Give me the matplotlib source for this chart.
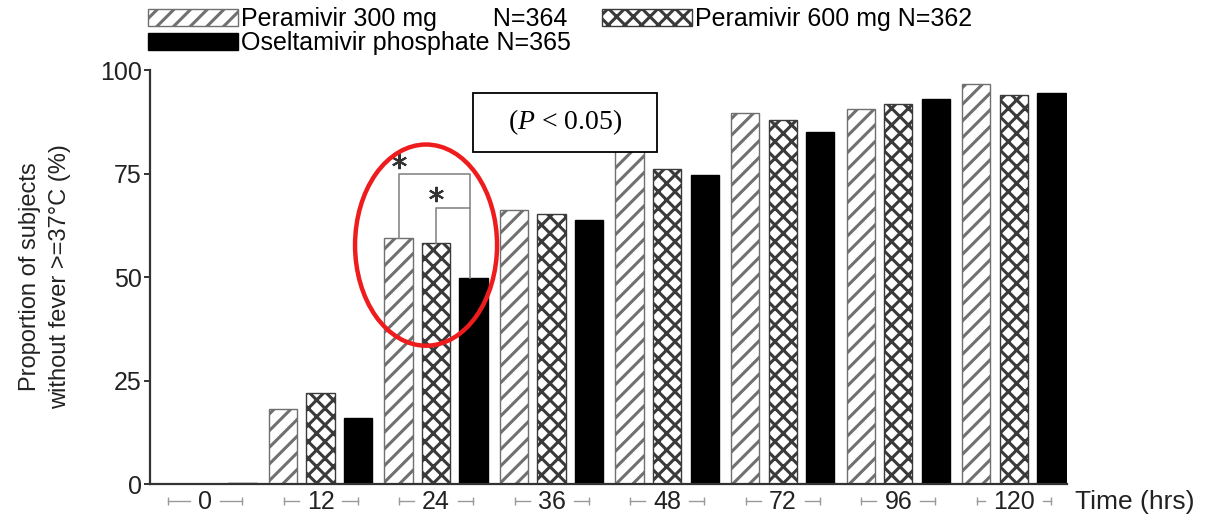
import numpy as np
import matplotlib
matplotlib.use('Agg')
import matplotlib.pyplot as plt
import matplotlib.transforms as mtransforms
from matplotlib.patches import Ellipse, Rectangle

plt.rcParams['font.family'] = ['Liberation Sans', 'DejaVu Sans']
plt.rcParams['hatch.linewidth'] = 2.2
plt.rcParams['mathtext.fontset'] = 'custom'
plt.rcParams['mathtext.rm'] = 'Liberation Serif'
plt.rcParams['mathtext.it'] = 'Liberation Serif:italic'

# datos
times = ['0', '12', '24', '36', '48', '72', '96', '120']
peramivir_300 = [0, 18.1, 59.5, 66.3, 84.0, 89.7, 90.6, 96.5]
peramivir_600 = [0, 21.9, 58.1, 65.1, 76.1, 87.9, 91.8, 94.0]
oseltamivir = [0.3, 15.9, 49.8, 63.8, 74.6, 85.1, 92.9, 94.4]
labels = ['Peramivir 300 mg        N=364',
          'Oseltamivir phosphate N=365',
          'Peramivir 600 mg N=362']

x = np.arange(len(times))
w = 0.245
step = 0.325

fig = plt.figure(figsize=(12.23, 5.19), dpi=100)
ax = fig.add_axes([150 / 1223, 1 - 484 / 519, 917 / 1223, 414 / 519])

b300 = ax.bar(x - step, peramivir_300, w, facecolor='white', edgecolor='#707070',
              hatch='//', linewidth=1)
b600 = ax.bar(x, peramivir_600, w, facecolor='white', edgecolor='#3a3a3a',
              hatch='xx', linewidth=1)
bosel = ax.bar(x + step, oseltamivir, w, color='black', edgecolor='black', linewidth=1)

ax.set_xlim(-0.476, 7.46)
ax.set_ylim(0, 100)
for s in ['top', 'right']:
    ax.spines[s].set_visible(False)
for s in ['left', 'bottom']:
    ax.spines[s].set_linewidth(1.6)
    ax.spines[s].set_color('#333333')

ax.set_yticks([0, 25, 50, 75, 100])
ax.tick_params(axis='y', direction='out', length=4, width=1.4, color='#333333',
               pad=2, labelsize=18, labelcolor='#222222')
ax.set_xticks(x)
ax.set_xticklabels(times)
ax.tick_params(axis='x', length=0, pad=4, labelsize=18, labelcolor='#222222')

ax.set_ylabel('Proportion of subjects\nwithout fever >=37°C (%)', fontsize=17,
              linespacing=1.5, va='center', color='#222222')
ax.yaxis.set_label_coords(-0.1145, 0.5)

ax.text(1.0087, -0.0435, 'Time (hrs)', transform=ax.transAxes, fontsize=19,
        ha='left', va='center', color='#222222')

# lineas grises alrededor de las etiquetas de tiempo
fig.canvas.draw()
trans = mtransforms.blended_transform_factory(ax.transData, ax.transAxes)
inv = ax.transData.inverted()
yline = -0.041
for xi, lbl in zip(x, ax.get_xticklabels()):
    bb = lbl.get_window_extent()
    x0 = inv.transform((bb.x0 - 8, 0))[0]
    x1 = inv.transform((bb.x1 + 8, 0))[0]
    left, right = xi - 0.32, xi + 0.32
    if x0 > left:
        ax.plot([left, x0], [yline, yline], color='#999999', lw=1,
                transform=trans, clip_on=False)
    if x1 < right:
        ax.plot([x1, right], [yline, yline], color='#999999', lw=1,
                transform=trans, clip_on=False)
    ax.plot([left, right], [yline, yline], ls='none', marker='|', ms=6, mew=1,
            color='#999999', transform=trans, clip_on=False)

# corchetes de significancia a las 24 h
i = times.index('24')
xa, xb, xc = x[i] - step, x[i], x[i] + step - 0.035
ax.plot([xa, xa, xc, xc], [peramivir_300[i], 75, 75, oseltamivir[i]],
        color='#888888', lw=1.2)
ax.plot([xb, xb, xc], [peramivir_600[i], 66.7, 66.7], color='#888888', lw=1.2)
ax.plot([xa, xb], [78, 70], ls='none', marker=(6, 2, 0), ms=11, mew=1.5,
        color='#333333')

ax.add_patch(Ellipse((1.913, 57.7), 1.229, 48.6, fill=False, edgecolor='#ee1c1c',
                     linewidth=3.2, zorder=6, clip_on=False))

ax.add_patch(Rectangle((2.318, 80.3), 1.598, 14.1, facecolor='white',
                       edgecolor='black', linewidth=1.3, zorder=5))
ax.text(3.117, 87.35, '($P$ < 0.05)', family='Liberation Serif', fontsize=20,
        ha='center', va='center', zorder=7)

fig.legend([b300, bosel, b600], labels, loc='upper left',
           bbox_to_anchor=(148 / 1223, 1 - 7 / 519), ncol=2, frameon=False,
           fontsize=18, handlelength=3.6, handleheight=0.68, handletextpad=0.12,
           labelspacing=0.0, columnspacing=1.25, borderpad=0, borderaxespad=0)

fig.savefig('out.png', dpi=100)
